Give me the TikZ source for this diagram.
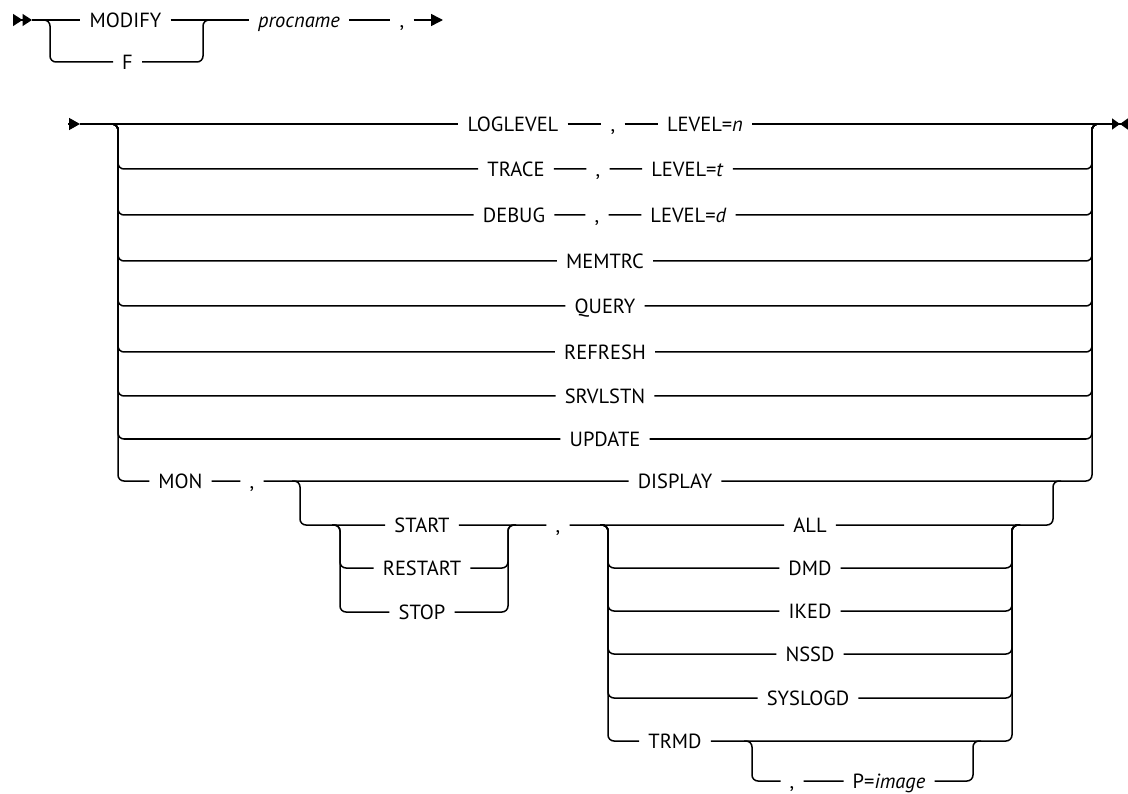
\documentclass[tikz,border=0pt]{standalone}
\usepackage{fontspec}
\setmainfont{PT Sans}
\usepackage{tikz}
\usetikzlibrary{arrows.meta, calc}
\newcommand{\railfont}{\fontsize{20.5}{24}\selectfont}

\begin{document}
\begin{tikzpicture}[
    x=1pt, y=-1pt,
    rail/.style={line width=1.5pt, rounded corners=6pt},
    kw/.style={font=\railfont, inner xsep=9pt, inner ysep=0pt, text height=14.3pt, text depth=0pt},
    var/.style={kw, font=\railfont\itshape},
    endtip/.style={rail, -{Triangle[length=12pt,width=12pt]}}
]
\useasboundingbox (0,0) rectangle (1128,794);

% First line: MODIFY | F, procname
\coordinate (s0) at (13,20);
\coordinate (s1) at (32,20);
\coordinate (aL0) at (42,20);
\coordinate (aL) at (50,20);
\coordinate (aR) at (203,20);
\coordinate (aR1) at (211,20);
\coordinate (e0) at (443,20);
\node[kw] (modify) at (125.5,20) {MODIFY};
\node[kw] (f) at (127.5,62) {F};
\node[var] (procname) at (299,20) {procname};
\node[kw] (c0) at (402,20) {,};

\draw[line width=1.5pt, -{Triangle[length=9.5pt,width=12pt,sep=0pt]Triangle[length=9.5pt,width=12pt]}] (s0) -- (s1);
\draw[rail] (s1) -- (modify) -- (procname) -- (c0);
\draw[endtip] (c0) -- (e0);
\draw[rail] (aL0) -| (aL |- f) -- (f) -- (aR |- f) |- (aR1);

% Second line: the commands
\coordinate (b0) at (68,124);
\coordinate (b1) at (80,124);
\coordinate (lv0) at (110,124);
\coordinate (lv) at (118,124);
\coordinate (rv) at (1092,124);
\coordinate (rv1) at (1100,124);
\coordinate (bend) at (1128,124);
\node[kw] (loglevel) at (513,124) {LOGLEVEL};
\node[kw] (c1) at (613,124) {,};
\node[kw] (levn) at (705,124) {LEVEL=\textit{n}};
\node[kw] (trace) at (516,169) {TRACE};
\node[kw] (c2) at (598,169) {,};
\node[kw] (levt) at (687.5,169) {LEVEL=\textit{t}};
\node[kw] (debug) at (514,215) {DEBUG};
\node[kw] (c3) at (597,215) {,};
\node[kw] (levd) at (688.5,215) {LEVEL=\textit{d}};
\node[kw] (memtrc) at (605,261) {MEMTRC};
\node[kw] (query) at (605,306) {QUERY};
\node[kw] (refresh) at (605,352) {REFRESH};
\node[kw] (srvlstn) at (605,396) {SRVLSTN};
\node[kw] (update) at (605,439) {UPDATE};
\node[kw] (mon) at (180.5,481) {MON};
\node[kw] (c4) at (252,481) {,};
\node[kw] (display) at (675,481) {DISPLAY};

\draw[line width=1.5pt, -{Triangle[length=11pt,width=12pt]}] (b0) -- (b1);
\draw[rail] (b1) -- (loglevel) -- (c1) -- (levn);
\draw[line width=1.5pt, -{Triangle[length=8pt,width=11pt,sep=0pt]Triangle[length=8pt,width=11pt,reversed]}] (levn) -- (bend);
\draw[rail] (lv0) -| (lv |- trace) -- (trace) -- (c2) -- (levt) -- (rv |- levt) |- (rv1);
\draw[rail] (lv0) -| (lv |- debug) -- (debug) -- (c3) -- (levd) -- (rv |- levd) |- (rv1);
\foreach \n in {memtrc,query,refresh,srvlstn,update}
  \draw[rail] (lv0) -| (lv |- \n) -- (\n) -- (rv |- \n) |- (rv1);
\draw[rail] (lv0) -| (lv |- mon) -- (mon) -- (c4) -- (display) -- (rv |- display) |- (rv1);

% MON options
\coordinate (mv0) at (292,481);
\coordinate (mv) at (300,481);
\coordinate (xv) at (1053,481);
\coordinate (xv1) at (1061,481);
\coordinate (sv0) at (332,525);
\coordinate (sv) at (340,525);
\coordinate (sw) at (508,525);
\coordinate (sw1) at (516,525);
\coordinate (gv0) at (600,525);
\coordinate (gv) at (608,525);
\coordinate (gw) at (1012,525);
\coordinate (gw1) at (1020,525);
\coordinate (tv0) at (744,741);
\coordinate (tv) at (752,741);
\coordinate (tw) at (973,741);
\coordinate (tw1) at (981,741);
\node[kw] (start) at (422,525) {START};
\node[kw] (restart) at (422,568) {RESTART};
\node[kw] (stop) at (422,612) {STOP};
\node[kw] (c5) at (558,525) {,};
\node[kw] (all) at (810,525) {ALL};
\node[kw] (dmd) at (810,568) {DMD};
\node[kw] (iked) at (810,611) {IKED};
\node[kw] (nssd) at (810,654) {NSSD};
\node[kw] (syslogd) at (808,698) {SYSLOGD};
\node[kw] (trmd) at (675,741) {TRMD};
\node[kw] (c6) at (792,781) {,};
\node[kw] (pimg) at (889,781) {P=\textit{image}};

\draw[rail] (mv0) -| (mv |- start) -- (start) -- (c5) -- (all) -- (xv |- all) |- (xv1);
\foreach \n in {restart,stop}
  \draw[rail] (sv0) -| (sv |- \n) -- (\n) -- (sw |- \n) |- (sw1);
\foreach \n in {dmd,iked,nssd,syslogd,trmd}
  \draw[rail] (gv0) -| (gv |- \n) -- (\n) -- (gw |- \n) |- (gw1);
\draw[rail] (tv0) -| (tv |- pimg) -- (c6) -- (pimg) -- (tw |- pimg) |- (tw1);
\end{tikzpicture}
\end{document}
